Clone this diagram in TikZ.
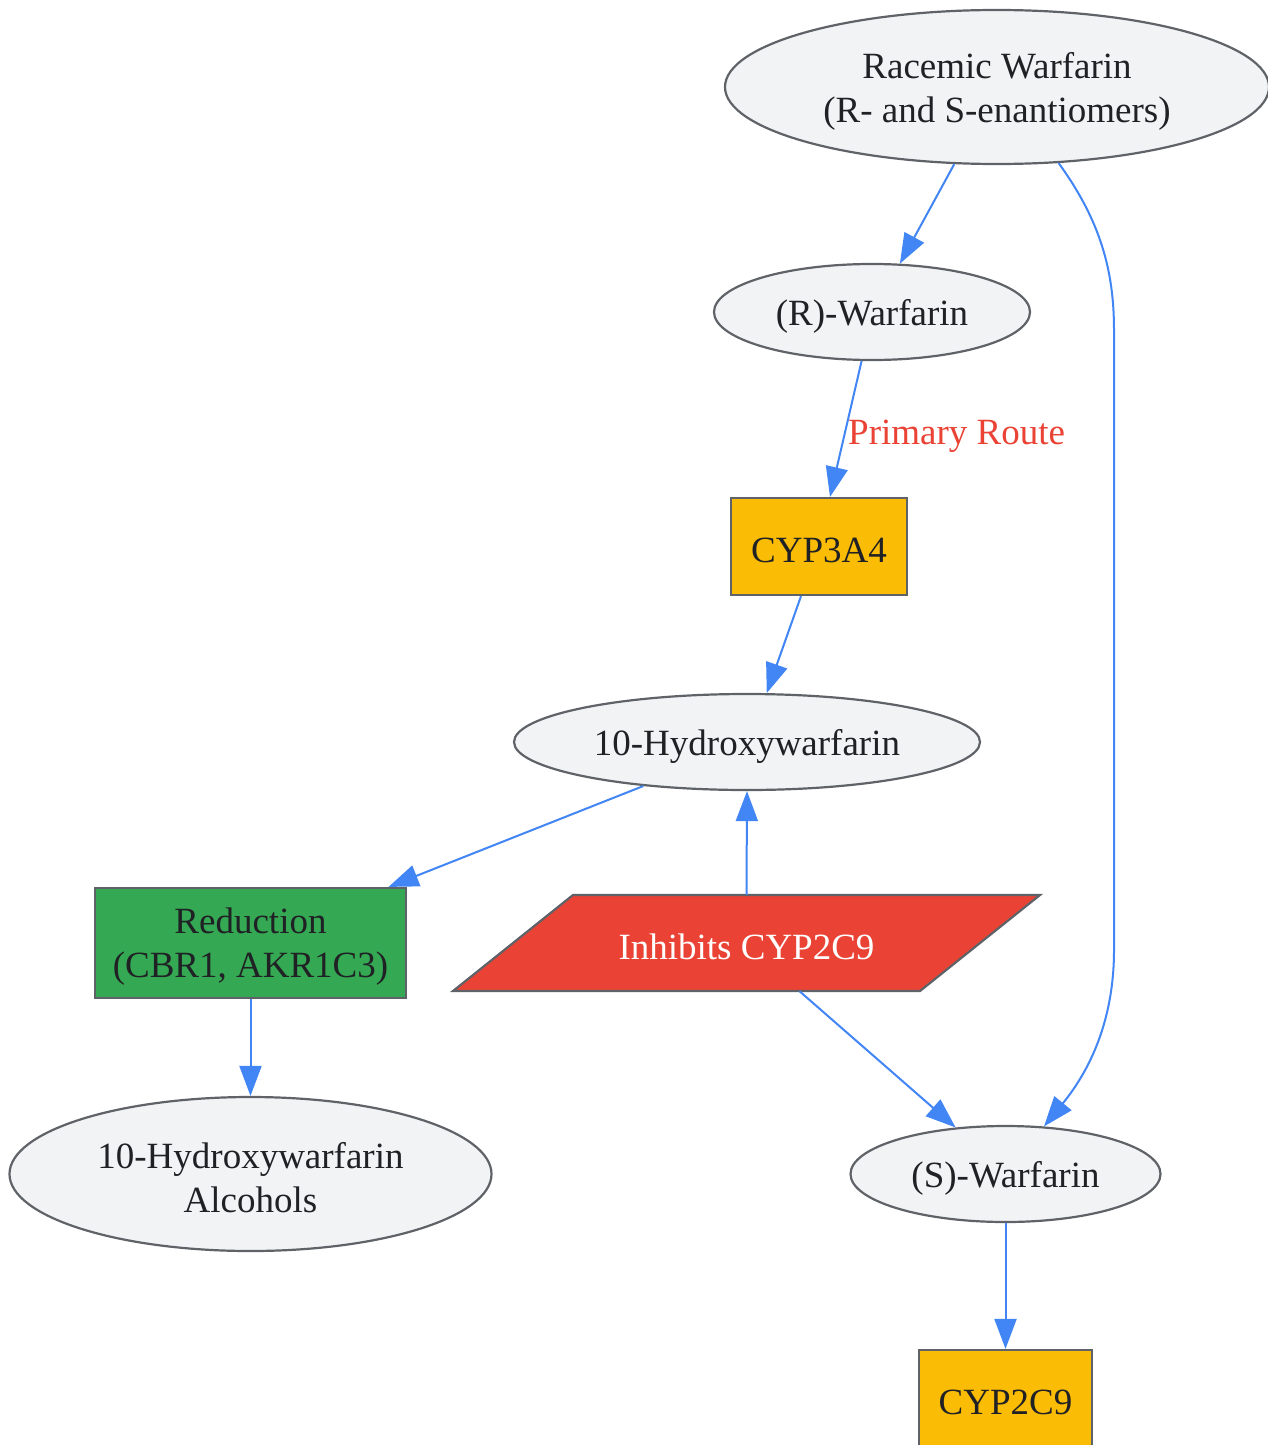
\documentclass[tikz,border=0pt]{standalone}
\usepackage{fontspec}
\setmainfont{Liberation Serif}
\usetikzlibrary{shapes.geometric,arrows.meta,calc}
\definecolor{cblue}{HTML}{4285F4}
\definecolor{cyellow}{HTML}{FBBC05}
\definecolor{cgreen}{HTML}{34A853}
\definecolor{cred}{HTML}{EA4335}
\definecolor{cstroke}{HTML}{5F6368}
\definecolor{cfill}{HTML}{F1F3F4}
\definecolor{ctext}{HTML}{202124}
\tikzset{
  base/.style={draw=cstroke, line width=2.2pt, inner sep=0pt},
  ell/.style={base, ellipse, fill=cfill},
  box/.style={base, rectangle},
  txt/.style={text=ctext, font=\fontsize{37}{44}\selectfont, align=center, inner sep=0pt, yshift=-4pt},
  conn/.style={draw=cblue, line width=2pt, -{Triangle[length=30pt,width=22pt]}},
}
\begin{document}
\begin{tikzpicture}[x=1pt,y=-1pt]
\useasboundingbox (0,0) rectangle (1267,1445);
\fill[white] (0,0) rectangle (1267,1445);

\node[ell, minimum width=544, minimum height=154] (rac) at (997,87) {};
\node[txt] (racT) at (rac.center) {Racemic Warfarin\\(R- and S-enantiomers)};
\node[ell, minimum width=316, minimum height=96] (rw) at (872,312) {};
\node[txt] (rwT) at (rw.center) {(R)-Warfarin};
\node[box, fill=cyellow, minimum width=176, minimum height=97] (c3) at (819,546.5) {};
\node[txt] (c3T) at (c3.center) {CYP3A4};
\node[ell, minimum width=466, minimum height=96] (h10) at (747,742) {};
\node[txt] (h10T) at (h10.center) {10-Hydroxywarfarin};
\node[box, fill=cgreen, minimum width=311, minimum height=110] (red) at (250.5,943) {};
\node[txt] (redT) at (red.center) {Reduction\\(CBR1, AKR1C3)};
\node[minimum width=587, minimum height=96, inner sep=0pt] (inh) at (746.5,943) {};
\draw[base, fill=cred] (453,991) -- (573,895) -- (1040,895) -- (920,991) -- cycle;
\node[txt, text=white] (inhT) at (inh.center) {Inhibits CYP2C9};
\node[ell, minimum width=482, minimum height=154] (alc) at (250.5,1174) {};
\node[txt] (alcT) at (alc.center) {10-Hydroxywarfarin\\Alcohols};
\node[ell, minimum width=310, minimum height=96] (sw) at (1005.5,1174) {};
\node[txt] (swT) at (sw.center) {(S)-Warfarin};
\node[box, fill=cyellow, minimum width=173, minimum height=97] (c9) at (1005.5,1398.5) {};
\node[txt] (c9T) at (c9.center) {CYP2C9};

\node[text=cred, font=\fontsize{37}{44}\selectfont, anchor=west, inner sep=0pt, yshift=-4pt] (lbl) at (848,432) {Primary Route};

\draw[conn] (rac.241) -- (rw.60);
\draw[conn] (rac.309) .. controls (1100,220) and (1114,270) .. (1114,330) -- (1114,950) .. controls (1114,1020) and (1090,1070) .. (sw.51);
\draw[conn] (rw.258) -- ($(c3.north)+(11,0)$);
\draw[conn] ($(c3.south)+(-18,0)$) -- (h10.68);
\draw[conn] (h10.203) -- ($(red.north)+(138,0)$);
\draw[conn] (inh.north) -- (h10.south);
\draw[conn] (red.south) -- (alc.north);
\draw[conn] ($(inh.south)+(53,0)$) -- (sw.137);
\draw[conn] (sw.south) -- (c9.north);
\end{tikzpicture}
\end{document}
